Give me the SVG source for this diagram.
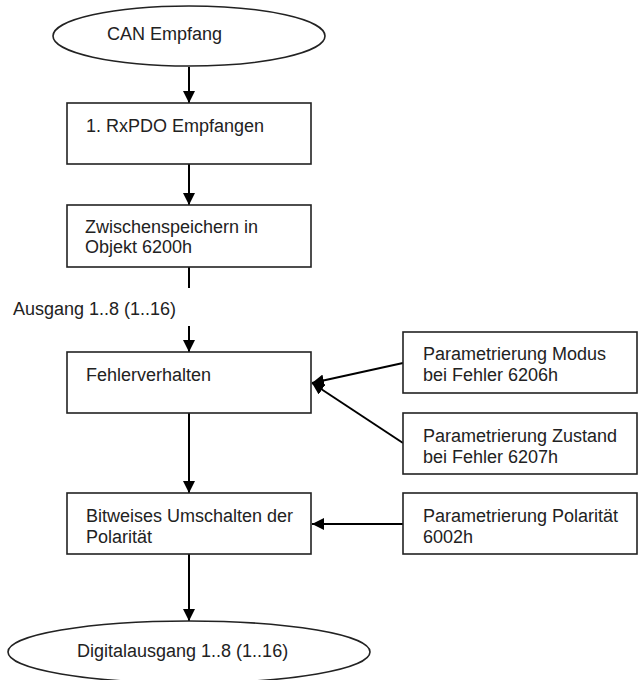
<svg xmlns="http://www.w3.org/2000/svg" width="638" height="680" viewBox="0 0 638 680">
<defs>
<marker id="ah" viewBox="0 0 12 12" refX="12" refY="6" markerWidth="12" markerHeight="12" markerUnits="userSpaceOnUse" orient="auto">
<path d="M0,0 L12,6 L0,12 Z" fill="#000"/>
</marker>
</defs>
<style>
.n{fill:#fff;stroke:#222;stroke-width:1.6}
.t{font-family:"Liberation Sans",Arial,sans-serif;font-size:18px;fill:#222}
.c{fill:none;stroke:#000;stroke-width:2}
</style>
<rect width="638" height="680" fill="#fff"/>
<g id="connectors">
<line class="c" x1="189" y1="67" x2="189" y2="103" marker-end="url(#ah)"/>
<line class="c" x1="189" y1="164" x2="189" y2="205" marker-end="url(#ah)"/>
<line class="c" x1="189" y1="267" x2="189" y2="288"/>
<line class="c" x1="189" y1="326" x2="189" y2="352" marker-end="url(#ah)"/>
<line class="c" x1="403" y1="363" x2="312" y2="383" marker-end="url(#ah)"/>
<line class="c" x1="403" y1="443" x2="312" y2="383" marker-end="url(#ah)"/>
<line class="c" x1="189" y1="413" x2="189" y2="493" marker-end="url(#ah)"/>
<line class="c" x1="403" y1="524" x2="312" y2="524" marker-end="url(#ah)"/>
<line class="c" x1="189" y1="554" x2="189" y2="621" marker-end="url(#ah)"/>
</g>
<g id="can-empfang">
<ellipse class="n" cx="189" cy="36" rx="136" ry="30"/>
<text class="t" x="107" y="40">CAN Empfang</text>
</g>
<g id="rxpdo">
<rect class="n" x="67" y="103" width="244" height="61"/>
<text class="t" x="86" y="132">1. RxPDO Empfangen</text>
</g>
<g id="zwischenspeichern">
<rect class="n" x="67" y="205" width="244" height="62"/>
<text class="t" x="85" y="233">Zwischenspeichern in</text>
<text class="t" x="85" y="253">Objekt 6200h</text>
</g>
<g id="ausgang-label">
<text class="t" x="13" y="315">Ausgang 1..8 (1..16)</text>
</g>
<g id="fehlerverhalten">
<rect class="n" x="67" y="352" width="244" height="61"/>
<text class="t" x="86" y="381">Fehlerverhalten</text>
</g>
<g id="param-modus">
<rect class="n" x="403" y="332" width="234" height="61"/>
<text class="t" x="423" y="360">Parametrierung Modus</text>
<text class="t" x="423" y="381">bei Fehler 6206h</text>
</g>
<g id="param-zustand">
<rect class="n" x="403" y="413" width="234" height="61"/>
<text class="t" x="423" y="442">Parametrierung Zustand</text>
<text class="t" x="423" y="463">bei Fehler 6207h</text>
</g>
<g id="umschalten">
<rect class="n" x="67" y="493" width="244" height="61"/>
<text class="t" x="86" y="522">Bitweises Umschalten der</text>
<text class="t" x="86" y="543">Polarität</text>
</g>
<g id="param-polaritaet">
<rect class="n" x="403" y="493" width="234" height="61"/>
<text class="t" x="423" y="522">Parametrierung Polarität</text>
<text class="t" x="423" y="543">6002h</text>
</g>
<g id="digitalausgang">
<ellipse class="n" cx="189" cy="652" rx="181" ry="31"/>
<text class="t" x="77" y="657">Digitalausgang 1..8 (1..16)</text>
</g>
</svg>
